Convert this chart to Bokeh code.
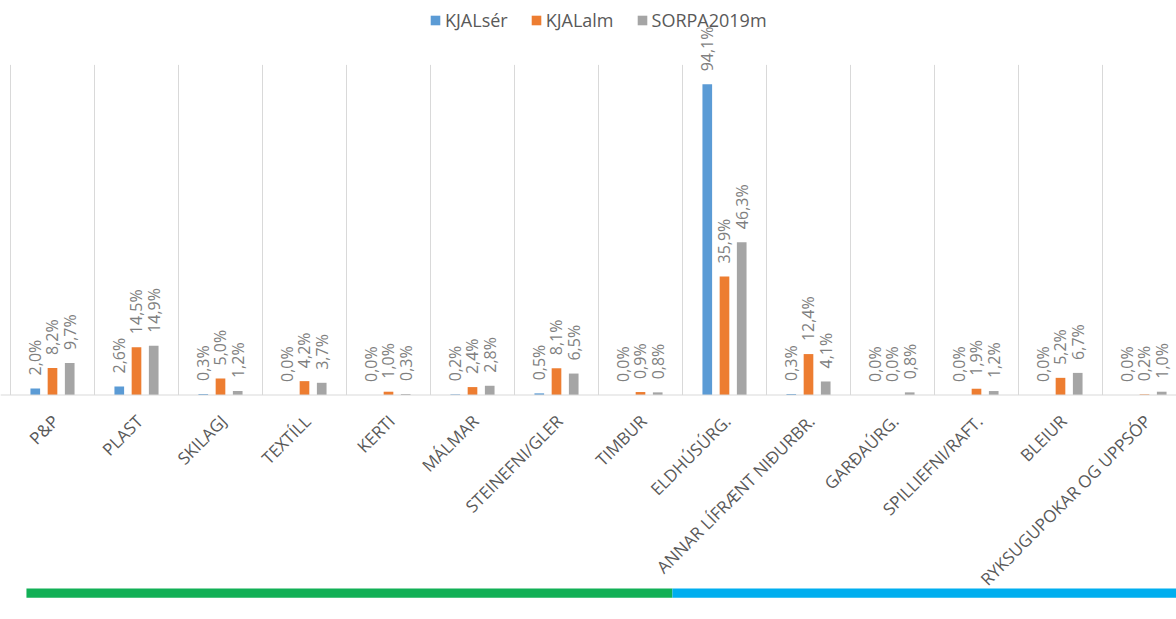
from bokeh.plotting import figure
from bokeh.models import Range1d, ColumnDataSource, Span
from bokeh.transform import dodge
from bokeh.core.properties import value
from bokeh.embed import file_html
from bokeh.resources import INLINE
import math

categories = ["P&P", "PLAST", "SKILAGJ", "TEXTÍLL", "KERTI", "MÁLMAR", "STEINEFNI/GLER",
              "TIMBUR", "ELDHÚSÚRG.", "ANNAR LÍFRÆNT NIÐURBR.", "GARÐAÚRG.",
              "SPILLIEFNI/RAFT.", "BLEIUR", "RYKSUGUPOKAR OG UPPSÓP"]
kjal_ser = [2.0, 2.6, 0.3, 0.0, 0.0, 0.2, 0.5, 0.0, 94.1, 0.3, 0.0, 0.0, 0.0, 0.0]
kjal_alm = [8.2, 14.5, 5.0, 4.2, 1.0, 2.4, 8.1, 0.9, 35.9, 12.4, 0.0, 1.9, 5.2, 0.2]
sorpa_2019 = [9.7, 14.9, 1.2, 3.7, 0.3, 2.8, 6.5, 0.8, 46.3, 4.1, 0.8, 1.2, 6.7, 1.0]
series_names = ["KJALsér", "KJALalm", "SORPA2019m"]
series_colors = ["#5B9BD5", "#ED7D31", "#A5A5A5"]

# decorative bands under the chart (category units)
band_left = [-0.31, 7.38]
band_right = [7.38, 14.0]
band_colors = ["#12B056", "#00AEEF"]

TEXT = "#595959"
GRID = "#D9D9D9"
FONT = "Open Sans"

def fmt(v):
    return ("%.1f%%" % v).replace(".", ",")

idx = list(range(len(categories)))

p = figure(width=1176, height=619, output_backend="svg", toolbar_location=None,
           x_range=Range1d(-0.619, 13.381), y_range=Range1d(-68.0, 119.5),
           x_axis_location=None, y_axis_location=None, min_border=0,
           outline_line_color=None)
p.xgrid.visible = False
p.ygrid.visible = False

# category separators (gridlines) from 0 to 100
bounds = [i - 0.5 for i in range(len(categories) + 1)]
p.segment(x0=bounds, y0=[0] * len(bounds), x1=bounds, y1=[100] * len(bounds),
          line_color=GRID, line_width=1)
p.add_layout(Span(location=0, dimension="width", line_color=GRID, line_width=1))

offsets = [-0.205, 0.0, 0.205]
for vals, name, col, off in zip([kjal_ser, kjal_alm, sorpa_2019], series_names, series_colors, offsets):
    src = ColumnDataSource(dict(x=idx, v=vals, lab=[fmt(v) for v in vals]))
    p.vbar(x=dodge("x", off), top="v", width=0.115, bottom=0, source=src,
           fill_color=col, line_color=None, legend_label=name)
    p.text(x=dodge("x", off), y="v", text="lab", source=src,
           angle=math.pi / 2, text_align="left", text_baseline="middle",
           y_offset=-13, text_font=value(FONT), text_font_size="16px",
           text_color="#7F7F7F")

# category labels
csrc = ColumnDataSource(dict(x=idx, y=[0] * len(idx), t=categories))
p.text(x=dodge("x", 0.035), y="y", text="t", source=csrc, angle=math.pi / 4,
       text_align="right", text_baseline="middle", y_offset=23,
       text_font=value(FONT), text_font_size="17px", text_color=TEXT)

# bottom bands
p.quad(left=band_left, right=band_right, bottom=-58.6, top=-61.4,
       fill_color=band_colors, line_color=None)

lg = p.legend[0]
lg.orientation = "horizontal"
lg.location = (429, 587)
lg.background_fill_alpha = 0
lg.border_line_color = None
lg.glyph_width = 12
lg.glyph_height = 12
lg.label_standoff = 4
lg.spacing = 22
lg.padding = 0
lg.margin = 0
lg.label_text_font = FONT
lg.label_text_font_size = "18px"
lg.label_text_color = TEXT

open("out.html", "w").write(file_html(p, INLINE))
